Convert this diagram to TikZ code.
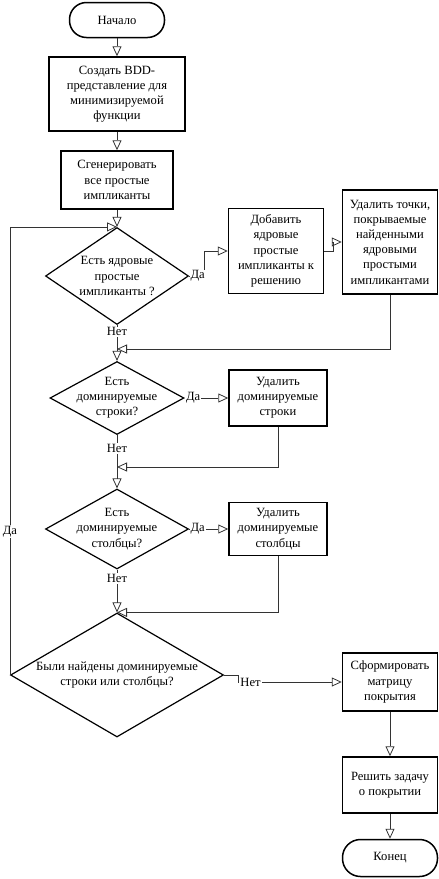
\documentclass[tikz,border=0pt]{standalone}
\usepackage{fontspec}
\setmainfont{Liberation Serif}
\usetikzlibrary{shapes.geometric,arrows.meta}

\begin{document}
\begin{tikzpicture}[x=1pt, y=-1pt,
		font=\fontsize{12.6}{15.2}\selectfont,
		terminal/.style={draw, line width=1.5pt, rectangle, rounded corners=17pt, minimum width=95pt, minimum height=35pt},
		process/.style={draw, line width=1.5pt, rectangle, align=center, inner sep=1pt},
		decision/.style={draw, line width=1.2pt, diamond, inner sep=0pt},
		flow/.style={draw=black!80, line width=0.8pt, -{Triangle[open, length=10pt, width=9pt]}},
		answer/.style={fill=white, inner sep=1pt}]
		\useasboundingbox (0,0) rectangle (439,879);

		% draw the start and the first two steps
		\node[terminal] (start) at (117,20) {Начало};
		\node[process, minimum width=136pt, minimum height=74pt] (bdd) at (117,94) {Создать BDD-\\представление для\\минимизируемой\\функции};
		\node[process, minimum width=112pt, minimum height=58pt] (gen) at (117,180) {Сгенерировать\\все простые\\импликанты};

		% draw the first question and its two boxes
		\node[decision, minimum width=143pt, minimum height=97pt,
			label={[align=center]center:{Есть ядровые\\простые\\импликанты ?}}] (core) at (117,276) {};
		\node[process, minimum width=95pt, minimum height=85pt] (add) at (276,251) {Добавить\\ядровые\\простые\\импликанты к\\решению};
		\node[process, minimum width=95pt, minimum height=104pt] (del) at (390,242) {Удалить точки,\\покрываемые\\найденными\\ядровыми\\простыми\\импликантами};
		\coordinate (join1) at (117,349);

		% draw the rows question
		\node[decision, minimum width=134pt, minimum height=73pt,
			label={[align=center]center:{Есть\\доминируемые\\строки?}}] (rows) at (117,398) {};
		\node[process, minimum width=98pt, minimum height=56pt] (delrows) at (278,398) {Удалить\\доминируемые\\строки};
		\coordinate (join2) at (117,467);

		% draw the columns question
		\node[decision, minimum width=143pt, minimum height=80pt,
			label={[align=center]center:{Есть\\доминируемые\\столбцы?}}] (cols) at (117,529) {};
		\node[process, minimum width=98pt, minimum height=53pt] (delcols) at (278,529) {Удалить\\доминируемые\\столбцы};

		% draw the last question
		\node[decision, minimum width=213pt, minimum height=124pt,
			label={[align=center]center:{Были найдены доминируемые\\строки или столбцы?}}] (found) at (117,675) {};

		% draw the right column down to the end
		\node[process, minimum width=95pt, minimum height=58pt] (matrix) at (390,682) {Сформировать\\матрицу\\покрытия};
		\node[process, minimum width=95pt, minimum height=56pt] (solve) at (390,785) {Решить задачу\\о покрытии};
		\node[terminal, rounded corners=18pt, minimum height=37pt] (end) at (390,858) {Конец};

		% draw the main flow
		\draw[flow] (start) -- (bdd);
		\draw[flow] (bdd) -- (gen);
		\draw[flow] (gen) -- (core);
		\draw[flow] (core.east) -- node[answer, pos=0, anchor=west]{Да} ++(15,0) |- (add.west);
		\draw[flow] (add.east) -- ++(9,0) |- (del.west);
		\draw[flow] (del.south) |- (join1);
		\draw[flow] (core.south) -- node[answer, pos=0.19]{Нет} (rows.north);
		\draw[flow] (rows.east) -- node[answer, pos=0, anchor=west]{Да} (delrows.west);
		\draw[flow] (delrows.south) |- (join2);
		\draw[flow] (rows.south) -- node[answer, pos=0.25]{Нет} (cols.north);
		\draw[flow] (cols.east) -- node[answer, pos=0, anchor=west]{Да} (delcols.west);
		\draw[flow] (delcols.south) |- (found.north);
		\draw[flow] (cols.south) -- node[answer, pos=0.21]{Нет} (found.north);
		\draw[flow] (found.east) -- ++(14,0) |- node[answer, pos=0.56]{Нет} (matrix.west);
		\draw[flow] (matrix) -- (solve);
		\draw[flow] (solve) -- (end);

		% draw the loop back to the first question
		\draw[flow] (found.west) |- node[answer, pos=0.16]{Да} (core.north);
	\end{tikzpicture}
\end{document}
